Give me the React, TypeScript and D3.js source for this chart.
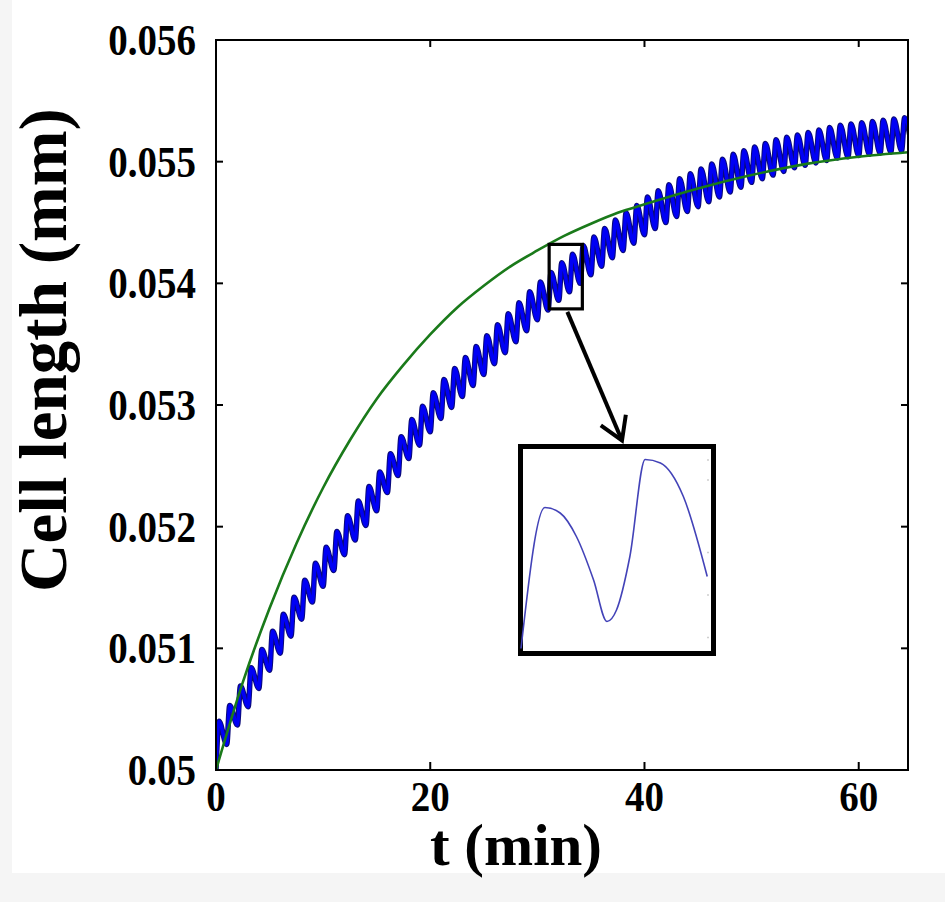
import React from "react";
import * as d3 from "d3";

// axis ticks
const timeTicks = [0, 20, 40, 60];
const lengthTicks = [0.05, 0.051, 0.052, 0.053, 0.054, 0.055, 0.056];
const lengthTickLabels = ["0.05", "0.051", "0.052", "0.053", "0.054", "0.055", "0.056"];

// smooth (green) curve, read every 2.5 / 5 min
const fitTimes = [0, 2.5, 5, 7.5, 10, 12.5, 15, 17.5, 20, 22.5, 25, 27.5, 30, 32.5, 35, 37.5, 40, 45, 50, 55, 60, 65];
const fitLengths = [
  0.05, 0.05072, 0.05133, 0.05186, 0.05232, 0.05271, 0.05305, 0.05333, 0.05358, 0.0538, 0.05398,
  0.05414, 0.05427, 0.05439, 0.05449, 0.05458, 0.05465, 0.05478, 0.05489, 0.05498, 0.05504, 0.05508,
];

// oscillating (blue) curve: one trough at the start of each cycle, one peak after the fast rise
const cycleStarts = [
  0, 1, 2, 3, 4, 5, 6, 7, 8, 9, 10, 11, 12, 13, 14, 15, 16, 17, 18, 19, 20, 21, 22, 23, 24, 25, 26, 27, 28, 29, 30, 31, 32,
  33, 34, 35, 36, 37, 38, 39, 40, 41, 42, 43, 44, 45, 46, 47, 48, 49, 50, 51, 52, 53, 54, 55, 56, 57, 58, 59, 60, 61, 62,
  63, 64, 65,
];
const troughLengths = [
  0.05, 0.05021, 0.05037, 0.05052, 0.05067, 0.05082, 0.05096, 0.0511, 0.05124, 0.05138, 0.05151, 0.05164, 0.05177,
  0.05189, 0.05201, 0.05213, 0.05228, 0.05242, 0.05256, 0.05267, 0.05278, 0.05289, 0.05298, 0.05307, 0.05316, 0.05325,
  0.05334, 0.05343, 0.05352, 0.05361, 0.0537, 0.05378, 0.05386, 0.05393, 0.054, 0.05407, 0.05414, 0.05421, 0.05427,
  0.05433, 0.0544, 0.05445, 0.0545, 0.05455, 0.05459, 0.05463, 0.05467, 0.05471, 0.05475, 0.05479, 0.05483, 0.05486,
  0.05489, 0.05492, 0.05495, 0.05497, 0.05499, 0.05501, 0.05503, 0.05504, 0.05505, 0.05506, 0.05507, 0.05508, 0.05509,
  0.05509,
];
const peakLengths = [
  0.0504, 0.05053, 0.05069, 0.05084, 0.05099, 0.05114, 0.05128, 0.05142, 0.05156, 0.0517, 0.05183, 0.05196, 0.05209,
  0.05221, 0.05233, 0.05245, 0.0526, 0.05274, 0.05288, 0.05299, 0.0531, 0.05321, 0.0533, 0.05339, 0.05348, 0.05357,
  0.05366, 0.05375, 0.05384, 0.05393, 0.05401, 0.05409, 0.05417, 0.05424, 0.05431, 0.05438, 0.05445, 0.05452, 0.05458,
  0.05464, 0.05471, 0.05476, 0.05481, 0.05486, 0.0549, 0.05494, 0.05498, 0.05502, 0.05506, 0.05509, 0.05512, 0.05515,
  0.05518, 0.0552, 0.05522, 0.05524, 0.05526, 0.05528, 0.0553, 0.05531, 0.05532, 0.05533, 0.05534, 0.05535, 0.05536,
];
const riseTime = 0.28;

// magnified cycle shown in the inset
const insetTimes = [32.0, 32.25, 32.41, 32.58, 32.76, 32.9, 33.0, 33.14, 33.3, 33.46, 33.7, 33.95];
const insetLengths = [
  0.053853, 0.054135, 0.054124, 0.054077, 0.05399, 0.053907, 0.05393, 0.054037, 0.054231, 0.054224, 0.054157,
  0.053997,
];
const insetTickLengths = [0.05423, 0.05419, 0.054045, 0.05396, 0.053875];

// region marked on the main plot
const zoomTimes = [31.1, 34.2];
const zoomLengths = [0.05379, 0.05432];

const font = "'Liberation Serif', 'Times New Roman', serif";

export default function App() {
  const left = 216;
  const right = 908;
  const top = 40;
  const bottom = 770;

  const x = d3.scaleLinear().domain([0, 64.6]).range([left, right]);
  const y = d3.scaleLinear().domain([0.05, 0.056]).range([bottom, top]);

  const fitLine = d3
    .line<number>()
    .x((d, i) => x(fitTimes[i]))
    .y((d) => y(d))
    .curve(d3.curveMonotoneX);

  const simPoints: [number, number][] = [];
  cycleStarts.forEach((t, i) => {
    simPoints.push([t, troughLengths[i]]);
    if (i < peakLengths.length) simPoints.push([t + riseTime, peakLengths[i]]);
  });
  const simLine = d3
    .line<[number, number]>()
    .x((d) => x(d[0]))
    .y((d) => y(d[1]))
    .curve(d3.curveMonotoneX);

  // inset panel
  const inL = 520.5, inR = 713.5, inT = 446.5, inB = 653.5;
  const ix = d3.scaleLinear().domain([32, 34]).range([521, 712]);
  const iy = d3.scaleLinear().domain([0.05385, 0.05425]).range([650, 450]);
  const insetLine = d3
    .line<number>()
    .x((d, i) => ix(insetTimes[i]))
    .y((d) => iy(d))
    .curve(d3.curveMonotoneX);

  // arrow from marked region to inset
  const zx0 = x(zoomTimes[0]), zx1 = x(zoomTimes[1]);
  const zy0 = y(zoomLengths[1]), zy1 = y(zoomLengths[0]);
  const tail = [x(32.8), zy1 + 3];
  const tip = [x(37.9), inT - 6];
  const ang = Math.atan2(tip[1] - tail[1], tip[0] - tail[0]);
  const headLen = 26;
  const head = [ang + Math.PI - 0.55, ang + Math.PI + 0.55].map((a) => [
    tip[0] + headLen * Math.cos(a),
    tip[1] + headLen * Math.sin(a),
  ]);

  return (
    <svg
      width={945}
      height={902}
      style={{ position: "absolute", left: 0, top: 0, display: "block" }}
      fontFamily={font}
      fontWeight="bold"
    >
      <rect width={945} height={902} fill="#f5f5f5" />
      <rect x={12} width={933} height={873} fill="#ffffff" />
      <defs>
        <clipPath id="plot">
          <rect x={left} y={top} width={right - left} height={bottom - top} />
        </clipPath>
      </defs>

      <g clipPath="url(#plot)">
        <path d={simLine(simPoints) || ""} fill="none" stroke="#0a0a7a" strokeWidth={5.5} strokeLinejoin="round" />
        <path d={simLine(simPoints) || ""} fill="none" stroke="#0000f5" strokeWidth={3.5} strokeLinejoin="round" />
        <path d={fitLine(fitLengths) || ""} fill="none" stroke="#1a7a1a" strokeWidth={2.6} />
      </g>

      {/* frame */}
      <rect x={left} y={top} width={right - left} height={bottom - top} fill="none" stroke="#000" strokeWidth={2} />

      {/* ticks */}
      {timeTicks.map((t) => (
        <g key={"xt" + t}>
          <line x1={x(t)} x2={x(t)} y1={bottom} y2={bottom - 8} stroke="#000" strokeWidth={2} />
          <line x1={x(t)} x2={x(t)} y1={top} y2={top + 7} stroke="#000" strokeWidth={2} />
          <text transform={`translate(${x(t)},811) scale(1,1.1)`} textAnchor="middle" fontSize={39}>
            {t}
          </text>
        </g>
      ))}
      {lengthTicks.map((v, i) => (
        <g key={"yt" + i}>
          <line x1={left} x2={left + 7} y1={y(v)} y2={y(v)} stroke="#000" strokeWidth={2} />
          <line x1={right} x2={right - 7} y1={y(v)} y2={y(v)} stroke="#000" strokeWidth={2} />
          <text transform={`translate(196,${y(v) + 15}) scale(1,1.12)`} textAnchor="end" fontSize={39}>
            {lengthTickLabels[i]}
          </text>
        </g>
      ))}

      {/* axis titles */}
      <text x={516} y={865} textAnchor="middle" fontSize={59}>
        t (min)
      </text>
      <text transform="translate(66,350) rotate(-90)" textAnchor="middle" fontSize={67}>
        Cell length (mm)
      </text>

      {/* marked region and arrow */}
      <rect x={zx0} y={zy0} width={zx1 - zx0} height={zy1 - zy0} fill="none" stroke="#000" strokeWidth={3.2} />
      <line x1={tail[0]} y1={tail[1]} x2={tip[0]} y2={tip[1]} stroke="#000" strokeWidth={4} />
      <polyline
        points={`${head[0][0]},${head[0][1]} ${tip[0]},${tip[1]} ${head[1][0]},${head[1][1]}`}
        fill="none"
        stroke="#000"
        strokeWidth={4}
      />

      {/* inset */}
      <rect x={inL} y={inT} width={inR - inL} height={inB - inT} fill="#fff" stroke="#000" strokeWidth={5} />
      {insetTickLengths.map((v, i) => (
        <line key={"it" + i} x1={707} x2={709} y1={iy(v)} y2={iy(v)} stroke="#cfcfcf" strokeWidth={1.5} />
      ))}
      <path d={insetLine(insetLengths) || ""} fill="none" stroke="#4343b8" strokeWidth={1.6} />
    </svg>
  );
}
